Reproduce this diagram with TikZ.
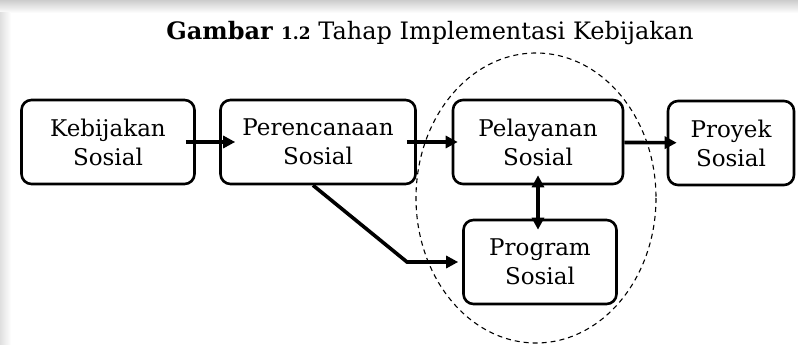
\documentclass[tikz,border=0pt]{standalone}
\usepackage{fontspec}
\setmainfont{DejaVu Serif}
\usepackage{tikz}
\usetikzlibrary{positioning,shapes.geometric,arrows.meta,calc}
\newcommand{\arah}{-{Triangle[length=12pt,width=12pt]}}
\newcommand{\arahdua}{{Triangle[length=12pt,width=12pt]}-{Triangle[length=12pt,width=12pt]}}
\newcommand{\angkakecil}[1]{{\fontsize{17}{17}\selectfont #1}}

\begin{document}
\begin{tikzpicture}[x=1pt,y=-1pt,
    kotak/.style={draw,line width=2.6pt,rounded corners=10pt,align=center,
        inner sep=0pt,minimum height=84pt,font=\fontsize{23}{29}\selectfont},
    garis/.style={line width=3.6pt}]
            \useasboundingbox (0,0) rectangle (798,345);
            \shade[top color=gray!40,bottom color=white] (0,0) rectangle (798,13);
            \shade[left color=gray!25,right color=white] (0,13) rectangle (11,345);
            % judul
            \node[font=\fontsize{24}{28}\selectfont,anchor=base] (judul) at (430,40)
                {\textbf{Gambar \angkakecil{1.2}} Tahap Implementasi Kebijakan};
            % tahap
            \node[kotak,minimum width=173pt] (kebijakan) at (108,142) {Kebijakan\\Sosial};
            \node[kotak,minimum width=195pt] (perencanaan) at (318,142) {Perencanaan\\Sosial};
            \node[kotak,minimum width=170pt] (pelayanan) at (538,142) {Pelayanan\\Sosial};
            \node[kotak,minimum width=126pt] (proyek) at (731,143) {Proyek\\Sosial};
            \node[kotak,minimum width=153pt] (program) at (540,262) {Program\\Sosial};
            \coordinate (tekuk) at (407,262);
            % lingkaran putus-putus
            \draw[dashed,line width=1.1pt,dash pattern=on 5pt off 4pt] (536,198) ellipse (120 and 145);
            % panah
            \draw[garis,\arah,shorten <=-10pt,shorten >=-16pt] (kebijakan) -- (perencanaan);
            \draw[garis,\arah,shorten <=-10pt,shorten >=-6pt] (perencanaan) -- (pelayanan);
            \draw[garis,\arah,shorten >=-10pt] (pelayanan) -- (proyek);
            \draw[garis,\arah,shorten >=4pt] ($(perencanaan.south)+(-5,0)$) -- (tekuk) -- (program.west);
            \draw[garis,\arahdua,shorten <=-10pt,shorten >=-11pt] (pelayanan.south) -- (pelayanan.south |- program.north);
        \end{tikzpicture}
\end{document}
